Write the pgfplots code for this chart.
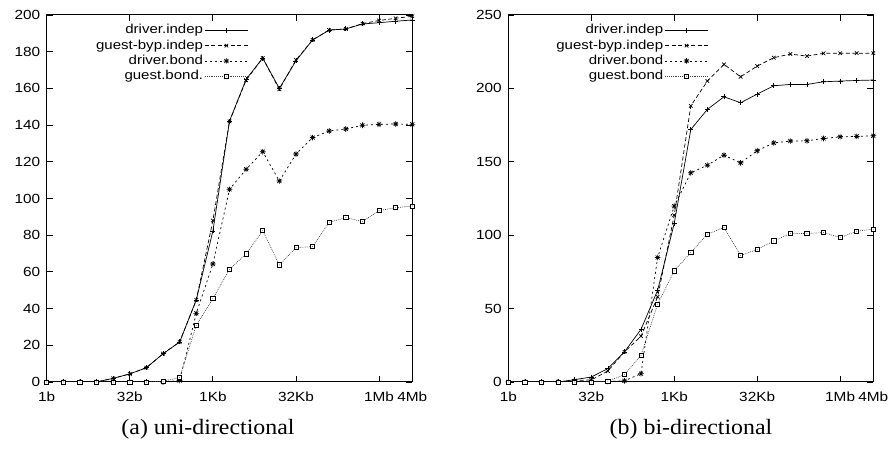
\documentclass[border=0pt]{standalone}
\usepackage{fontspec}
\setmainfont{Liberation Serif}
\newfontfamily\capfont[FakeStretch=1.09]{Liberation Serif}
\newfontfamily\chartfont[FakeStretch=1.16]{Liberation Sans}
\usepackage{pgfplots}
\pgfplotsset{compat=1.18}

% gnuplot-like marks
\pgfdeclareplotmark{gpstar}{%
  \pgfpathmoveto{\pgfqpoint{-\pgfplotmarksize}{0pt}}\pgfpathlineto{\pgfqpoint{\pgfplotmarksize}{0pt}}%
  \pgfpathmoveto{\pgfqpoint{0pt}{-\pgfplotmarksize}}\pgfpathlineto{\pgfqpoint{0pt}{\pgfplotmarksize}}%
  \pgfpathmoveto{\pgfqpoint{-.707\pgfplotmarksize}{-.707\pgfplotmarksize}}\pgfpathlineto{\pgfqpoint{.707\pgfplotmarksize}{.707\pgfplotmarksize}}%
  \pgfpathmoveto{\pgfqpoint{-.707\pgfplotmarksize}{.707\pgfplotmarksize}}\pgfpathlineto{\pgfqpoint{.707\pgfplotmarksize}{-.707\pgfplotmarksize}}%
  \pgfusepathqstroke}
\pgfdeclareplotmark{gpbox}{%
  \pgfpathrectangle{\pgfqpoint{-\pgfplotmarksize}{-\pgfplotmarksize}}{\pgfqpoint{2\pgfplotmarksize}{2\pgfplotmarksize}}%
  \pgfsetfillcolor{white}\pgfusepathqfillstroke
  \pgfpathcircle{\pgfpointorigin}{0.35bp}\pgfsetfillcolor{black}\pgfusepathqfill}

\pgfplotsset{
  myaxis/.style={
    scale only axis, height=367bp,
    xmin=1, xmax=4194304,
    xtick={1,32,1024,32768,1048576,4194304},
    xticklabels={1b,32b,1Kb,32Kb,1Mb,4Mb},
    minor tick num=0, ymin=0,
    tick align=inside, major tick length=6bp,
    tick style={line width=0.8bp, black},
    axis line style={line width=1bp},
    /pgf/number format/assume math mode=true,
    ticklabel style={font=\chartfont\fontsize{13.3}{15}\selectfont},
    xticklabel style={yshift=-6bp},
    yticklabel style={xshift=-3bp},
    legend plot pos=right, legend cell align=right,
    legend style={draw=none, fill=none, font=\chartfont\fontsize{13}{15}\selectfont,
      anchor=north east, row sep=0pt,
      nodes={text height=9.8bp, text depth=2.5bp, inner sep=1.5bp}},
    legend image code/.code={\draw[mark repeat=2,mark phase=2] plot coordinates {(0bp,0bp)(21.5bp,0bp)(43bp,0bp)};},
    every axis plot/.append style={line width=0.7bp, black},
  },
  sA/.style={mark=+, mark size=2.5bp, solid},
  sB/.style={mark=x, mark size=2.5bp, dash pattern=on 4bp off 2.5bp, mark options={solid}},
  sC/.style={mark=gpstar, mark size=2.8bp, dash pattern=on 2bp off 3bp, mark options={solid}},
  sD/.style={mark=gpbox, mark size=2.1bp, black!75, dash pattern=on 0.8bp off 1.1bp, mark options={solid, black}},
}

\begin{document}
\begin{tikzpicture}
\path[use as bounding box] (0,0) rectangle (889bp,450bp);

\begin{axis}[xmode=log, log basis x=2, myaxis, at={(46.7bp,68bp)}, anchor=south west, width=365.6bp,
  ymax=200, ytick={0,20,...,200},
  legend style={at={(0.56,0.985)}}]
\addplot[sA] coordinates {(1,0)(2,0)(4,0)(8,0)(16,2)(32,4.4)(64,7.8)(128,15.4)(256,21.8)(512,44.7)(1024,82.3)(2048,142.2)(4096,165)(8192,176.5)(16384,160)(32768,175)(65536,186.4)(131072,191.8)(262144,192.4)(524288,195.1)(1048576,195.8)(2097152,196.6)(4194304,197.3)};
\addlegendentry{driver.indep}
\addplot[sB] coordinates {(1,0)(2,0)(4,0)(8,0)(16,2)(32,4.4)(64,7.8)(128,15.4)(256,21.8)(512,44.7)(1024,88)(2048,142)(4096,164.5)(8192,176.5)(16384,159.5)(32768,175.5)(65536,186.4)(131072,191.8)(262144,192.4)(524288,195.3)(1048576,197)(2097152,198.2)(4194304,199.3)};
\addlegendentry{guest-byp.indep}
\addplot[sC] coordinates {(1,0)(2,0)(4,0)(8,0)(16,0)(32,0)(64,0)(128,0)(256,0.8)(512,37.4)(1024,64.3)(2048,105)(4096,115.9)(8192,125.5)(16384,109.5)(32768,124.2)(65536,133.2)(131072,136.8)(262144,137.9)(524288,139.9)(1048576,140.4)(2097152,140.6)(4194304,140.4)};
\addlegendentry{driver.bond}
\addplot[sD] coordinates {(1,0)(2,0)(4,0)(8,0)(16,0)(32,0)(64,0)(128,0.4)(256,2.4)(512,30.9)(1024,45.4)(2048,61.4)(4096,69.8)(8192,82.5)(16384,63.8)(32768,73.2)(65536,73.8)(131072,87)(262144,89.6)(524288,87.4)(1048576,93.4)(2097152,95)(4194304,95.9)};
\addlegendentry{guest.bond.}
\end{axis}

\begin{axis}[xmode=log, log basis x=2, myaxis, at={(508.3bp,68bp)}, anchor=south west, width=365bp,
  ymax=250, ytick={0,50,...,250},
  legend style={at={(0.557,0.985)}}]
\addplot[sA] coordinates {(1,0)(2,0)(4,0)(8,0)(16,1.6)(32,3.4)(64,9.1)(128,20.5)(256,35.9)(512,62.5)(1024,108)(2048,172)(4096,185.7)(8192,194.3)(16384,190.2)(32768,196.1)(65536,201.8)(131072,202.7)(262144,202.7)(524288,204.5)(1048576,205)(2097152,205.4)(4194304,205.7)};
\addlegendentry{driver.indep}
\addplot[sB] coordinates {(1,0)(2,0)(4,0)(8,0)(16,1)(32,1.4)(64,7.5)(128,20.5)(256,31.2)(512,58)(1024,113.6)(2048,188.1)(4096,205)(8192,216.4)(16384,207.9)(32768,215.2)(65536,220.9)(131072,223.4)(262144,222)(524288,223.9)(1048576,223.9)(2097152,224)(4194304,224)};
\addlegendentry{guest-byp.indep}
\addplot[sC] coordinates {(1,0)(2,0)(4,0)(8,0)(16,0)(32,0)(64,0.3)(128,0.8)(256,5.7)(512,84.8)(1024,119.8)(2048,142.5)(4096,147.7)(8192,154.5)(16384,149.3)(32768,157.5)(65536,162.9)(131072,164.1)(262144,164.3)(524288,165.9)(1048576,167)(2097152,167.3)(4194304,167.7)};
\addlegendentry{driver.bond}
\addplot[sD] coordinates {(1,0)(2,0)(4,0)(8,0)(16,0)(32,0)(64,0.5)(128,5)(256,18.2)(512,53)(1024,75.7)(2048,88.2)(4096,100.7)(8192,105.2)(16384,86.2)(32768,90.2)(65536,96.1)(131072,101.1)(262144,101.1)(524288,101.8)(1048576,98.4)(2097152,102.7)(4194304,104.1)};
\addlegendentry{guest.bond}
\end{axis}

\node[anchor=base, font=\capfont\fontsize{22}{24}\selectfont] at (208bp,16bp) {(a) uni-directional};
\node[anchor=base, font=\capfont\fontsize{22}{24}\selectfont] at (691bp,16bp) {(b) bi-directional};
\end{tikzpicture}
\end{document}
